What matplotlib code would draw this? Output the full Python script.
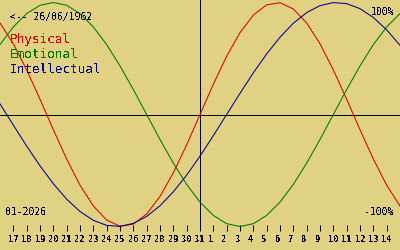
import numpy as np
import matplotlib
matplotlib.use("Agg")
import matplotlib.pyplot as plt

# biorhythm values, one per day from 16 Jan to 15 Feb 2026
physical = [0.817, 0.631, 0.398, 0.136, -0.136, -0.398, -0.631, -0.817, -0.942, -0.998,
            -0.979, -0.888, -0.731, -0.520, -0.270, 0.0, 0.270, 0.520, 0.731, 0.888,
            0.979, 0.998, 0.942, 0.817, 0.631, 0.398, 0.136, -0.136, -0.398, -0.631, -0.817]
emotional = [0.624, 0.782, 0.901, 0.975, 1.0, 0.975, 0.901, 0.782, 0.624, 0.434,
             0.223, 0.0, -0.223, -0.434, -0.624, -0.782, -0.901, -0.975, -1.0, -0.975,
             -0.901, -0.782, -0.624, -0.434, -0.223, 0.0, 0.223, 0.434, 0.624, 0.782, 0.901]
intellectual = [0.095, -0.095, -0.282, -0.458, -0.618, -0.756, -0.866, -0.945, -0.990, -0.999,
                -0.972, -0.910, -0.815, -0.690, -0.541, -0.372, -0.189, 0.0, 0.189, 0.372,
                0.541, 0.690, 0.815, 0.910, 0.972, 0.999, 0.990, 0.945, 0.866, 0.756, 0.618]

# day-of-month labels under the ticks (17 Jan .. 14 Feb)
day_labels = list(range(17, 32)) + list(range(1, 15))
today_idx = 15  # 31 Jan

birth = "26/06/1962"
month = "01-2026"

bg = "#e0d282"
red = "#e00000"
green = "#007800"
blue = "#000090"

plt.rcParams['text.antialiased'] = False
plt.rcParams['font.family'] = 'DejaVu Sans Mono'

W, H = 400, 250
fig = plt.figure(figsize=(4, 2.5), dpi=100)
fig.patch.set_facecolor(bg)

# axes: full width, top edge at pixel 0, bottom edge at pixel 231
ax_bottom = 231
ax = fig.add_axes([0, (H - ax_bottom) / H, 1, ax_bottom / H])
ax.set_facecolor(bg)

zero_px, amp_px = 114.5, 112.0
ax.set_xlim(0, len(physical) - 1)
ax.set_ylim((zero_px - ax_bottom) / amp_px, zero_px / amp_px)

x = np.arange(len(physical))
ax.axhline(0, color="black", lw=0.5, antialiased=False)
ax.axvline(today_idx, color="black", lw=0.5, antialiased=False)
ax.plot(x, physical, color=red, lw=0.75)
ax.plot(x, emotional, color=green, lw=0.75)
ax.plot(x, intellectual, color=blue, lw=0.75)

for s in ax.spines.values():
    s.set_visible(False)
ax.set_yticks([])
ax.set_xticks(np.arange(1, len(day_labels) + 1))
ax.set_xticklabels([f"{d:<2}" for d in day_labels], fontsize=6.2, fontweight="bold")
ax.tick_params(axis="x", direction="in", length=4, width=0.72, pad=3, colors="black")


def px(xp, yp):
    return xp / W, 1 - yp / H


fig.text(*px(10, 20), "<-- " + birth, fontsize=7, color="black", va="baseline")
fig.text(*px(10, 43), "Physical", fontsize=9.2, color=red, va="baseline")
fig.text(*px(10, 58), "Emotional", fontsize=9.2, color=green, va="baseline")
fig.text(*px(10, 73), "Intellectual", fontsize=9.2, color=blue, va="baseline")
fig.text(*px(394, 15), "100%", fontsize=7, color="black", va="baseline", ha="right")
fig.text(*px(394, 215), "-100%", fontsize=7, color="black", va="baseline", ha="right")
fig.text(*px(5, 215), month, fontsize=7, color="black", va="baseline")

fig.savefig("out.png", dpi=100, facecolor=bg)
